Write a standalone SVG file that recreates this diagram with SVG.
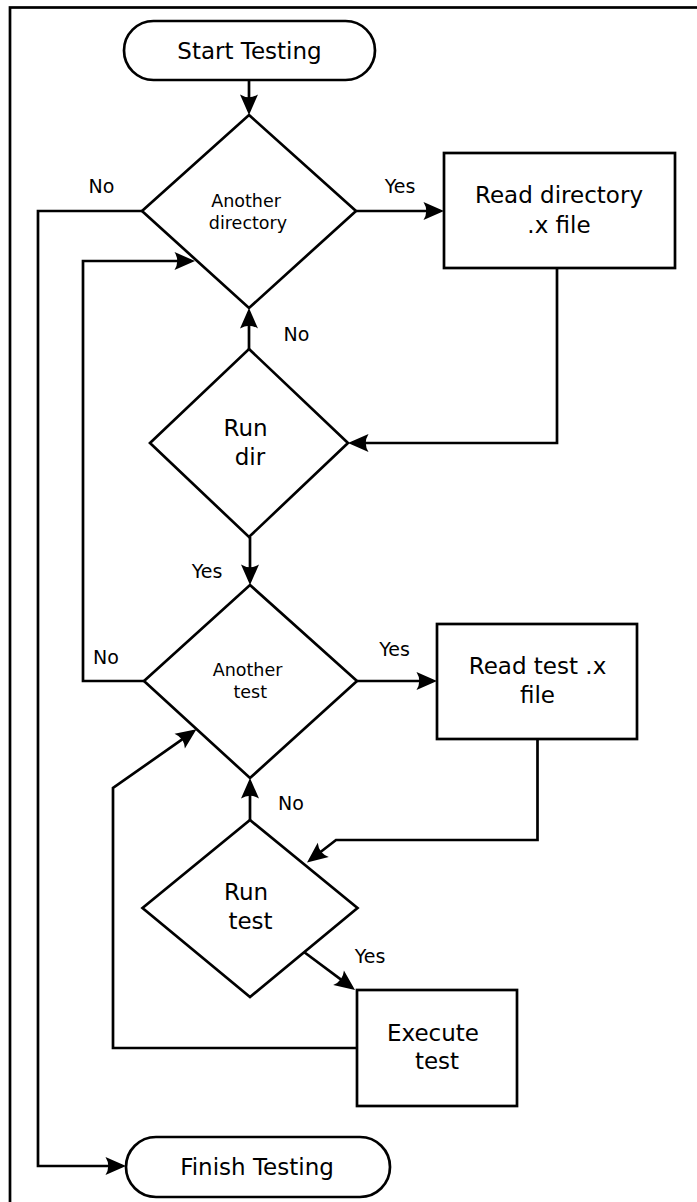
<svg xmlns="http://www.w3.org/2000/svg" width="697" height="1202" viewBox="0 0 697 1202">
<style>
.s{fill:#fff;stroke:#000;stroke-width:2.7}
.c{fill:none;stroke:#000;stroke-width:2.7;marker-end:url(#ah)}
.t{font-family:"DejaVu Sans",sans-serif;font-size:23px;fill:#000;text-anchor:middle}
.q{font-family:"DejaVu Sans",sans-serif;font-size:17.5px;fill:#000;text-anchor:middle}
.l{font-family:"DejaVu Sans",sans-serif;font-size:19px;fill:#000;text-anchor:middle}
</style>
<defs>
<marker id="ah" markerUnits="userSpaceOnUse" viewBox="-19 -11 25 22" markerWidth="25" markerHeight="22" refX="0" refY="0" orient="auto" overflow="visible">
<path d="M4,0 L-16.5,-9 Q-11,0 -16.5,9 Z" fill="#000"/>
</marker>
</defs>
<rect x="10" y="7.5" width="700" height="1210" fill="#fff" stroke="#000" stroke-width="2.7"/>
<g id="connectors">
<path class="c" d="M249,80 V111"/>
<path class="c" d="M356,211 H440"/>
<path class="c" d="M557,268 V443 H352"/>
<path class="c" d="M249,349 V312"/>
<path class="c" d="M250,537 V581"/>
<path class="c" d="M144,681 H83 V261 H191"/>
<path class="c" d="M142,211 H38 V1166 H122"/>
<path class="c" d="M357,681 H433"/>
<path class="c" d="M537.5,739 V840 H336 L310.2,860"/>
<path class="c" d="M250,820 V782"/>
<path class="c" d="M304,952 L351.8,987.6"/>
<path class="c" d="M357,1048 H113 V788 L193.2,731.6"/>
<text class="l" x="101.5" y="193">No</text>
<text class="l" x="400" y="193">Yes</text>
<text class="l" x="296.5" y="341">No</text>
<text class="l" x="207" y="578">Yes</text>
<text class="l" x="106" y="664">No</text>
<text class="l" x="394.5" y="656">Yes</text>
<text class="l" x="291" y="810">No</text>
<text class="l" x="370" y="963">Yes</text>
</g>
<g id="start">
<rect class="s" x="124" y="21" width="251" height="59" rx="29.5" ry="29.5"/>
<text class="t" x="249.5" y="59">Start Testing</text>
</g>
<g id="another-directory">
<path class="s" d="M249,115 L356,211 L249,308 L142,211 Z"/>
<text class="q" x="246" y="207">Another</text>
<text class="q" x="248" y="229">directory</text>
</g>
<g id="read-directory">
<rect class="s" x="444" y="153" width="231" height="115"/>
<text class="t" x="559" y="203">Read directory</text>
<text class="t" x="559" y="233">.x file</text>
</g>
<g id="run-dir">
<path class="s" d="M249,349 L348,443 L249,537 L150,443 Z"/>
<text class="t" x="245.5" y="436">Run</text>
<text class="t" x="250" y="465">dir</text>
</g>
<g id="another-test">
<path class="s" d="M250,585 L357,681 L250,778 L144,681 Z"/>
<text class="q" x="247.5" y="676">Another</text>
<text class="q" x="250.3" y="697.5">test</text>
</g>
<g id="read-test">
<rect class="s" x="437" y="624" width="200" height="115"/>
<text class="t" x="537.5" y="674">Read test .x</text>
<text class="t" x="537.5" y="703">file</text>
</g>
<g id="run-test">
<path class="s" d="M250,820 L357.5,908 L250,997 L142.5,908 Z"/>
<text class="t" x="246" y="900">Run</text>
<text class="t" x="250.5" y="929">test</text>
</g>
<g id="execute-test">
<rect class="s" x="357" y="990" width="160" height="116"/>
<text class="t" x="433" y="1041">Execute</text>
<text class="t" x="437" y="1069">test</text>
</g>
<g id="finish">
<rect class="s" x="126" y="1137" width="264" height="60" rx="30" ry="30"/>
<text class="t" x="257" y="1175">Finish Testing</text>
</g>
</svg>
